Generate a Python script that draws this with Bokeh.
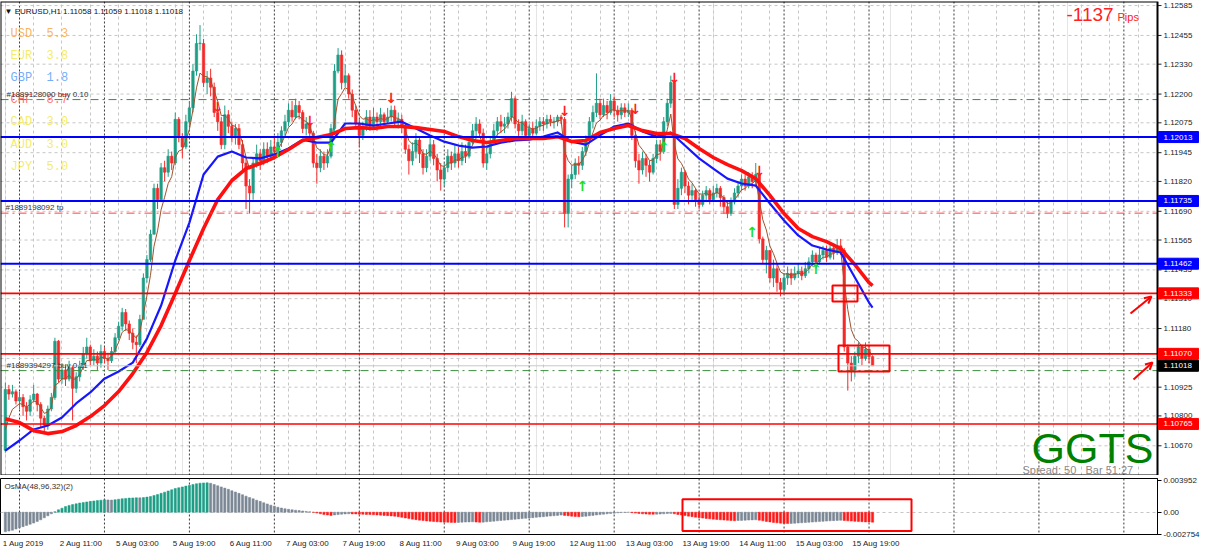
from bokeh.plotting import figure
from bokeh.models import (Range1d, FixedTicker, PrintfTickFormatter, Span, Label, Grid,
                          BoxAnnotation, Arrow, OpenHead, ColumnDataSource)
from bokeh.layouts import column
from bokeh.embed import file_html
from bokeh.resources import INLINE
from bokeh.core.properties import value

# ---------------- data (prices in points above 1.10000) ----------------
open0 = 650
close = [
    915, 895, 905, 865, 880, 840, 820, 870, 895, 850,
    790, 760, 830, 880, 1125, 960, 1000, 960, 1010, 920,
    970, 1020, 1070, 1100, 1040, 1060, 1030, 1080, 1050, 1040,
    1080, 1140, 1190, 1250, 1200, 1160, 1120, 1110, 1220, 1400,
    1480, 1590, 1790, 1740, 1880, 1860, 1930, 1900, 2090, 2010,
    1970, 2080, 2140, 2300, 2420, 2420, 2250, 2270, 2230, 2120,
    2080, 1980, 2110, 2060, 2010, 2050, 1980, 1900, 1800, 1770,
    1900, 1940, 1910, 1960, 1930, 1970, 1950, 1990, 2040, 2080,
    2130, 2100, 2150, 2120, 2050, 2070, 2030, 1900, 1880, 1930,
    1900, 1930, 2050, 2300, 2370, 2250, 2280, 2200, 2130, 2070,
    2020, 2060, 2100, 2060, 2100, 2080, 2110, 2080, 2100, 2130,
    2080, 2090, 2060, 1960, 1910, 1950, 2000, 1940, 1880, 1930,
    1980, 1920, 1870, 1830, 1880, 1930, 1900, 1940, 1910, 1950,
    1930, 1990, 2040, 2070, 2030, 1900, 1940, 1990, 2040, 2080,
    2060, 2070, 2100, 2180, 2070, 2040, 2080, 2020, 2050, 2030,
    2060, 2080, 2070, 2090, 2080, 2080, 2100, 2090, 1680, 1830,
    1850, 1900, 1890, 1950, 2000, 2080, 2120, 2160, 2110, 2150,
    2120, 2170, 2130, 2110, 2140, 2120, 2130, 2020, 1910, 1870,
    1920, 1890, 1860, 1920, 1980, 1950, 2080, 2160, 2250, 1720,
    1790, 1860, 1800, 1760, 1780, 1740, 1720, 1760, 1780, 1740,
    1770, 1790, 1750, 1710, 1680, 1730, 1770, 1800, 1830, 1800,
    1840, 1820, 1850, 1570, 1480, 1520, 1400, 1440, 1380, 1350,
    1400, 1420, 1400, 1420, 1430, 1410, 1440, 1470, 1500, 1470,
    1500, 1520, 1490, 1530, 1510, 1540, 1520, 1100, 1030, 1000,
    1060, 1100, 1050, 1090, 1058, 1018,
]
high = [
    945, 935, 935, 915, 905, 895, 860, 890, 935, 900,
    860, 800, 845, 900, 1140, 1130, 1030, 1020, 1040, 1020,
    990, 1040, 1100, 1140, 1110, 1090, 1080, 1110, 1100, 1075,
    1100, 1160, 1210, 1270, 1265, 1215, 1180, 1150, 1240, 1420,
    1500, 1610, 1810, 1810, 1900, 1910, 1960, 1950, 2120, 2100,
    2030, 2110, 2170, 2330, 2460, 2500, 2440, 2300, 2310, 2250,
    2110, 2100, 2150, 2130, 2080, 2070, 2070, 2000, 1920, 1830,
    1920, 1980, 1960, 1990, 1990, 2000, 2010, 2030, 2060, 2110,
    2160, 2170, 2180, 2170, 2130, 2100, 2055, 2040, 1940, 1960,
    1950, 1960, 2070, 2330, 2400, 2390, 2330, 2290, 2220, 2150,
    2090, 2080, 2130, 2130, 2140, 2120, 2140, 2120, 2140, 2150,
    2150, 2120, 2110, 2070, 1980, 1990, 2030, 2010, 1960, 1960,
    2010, 2000, 1940, 1900, 1900, 1960, 1950, 1980, 1970, 1990,
    1980, 2010, 2070, 2100, 2090, 2050, 1970, 2010, 2070, 2100,
    2110, 2100, 2120, 2210, 2190, 2090, 2110, 2090, 2070, 2080,
    2090, 2100, 2100, 2110, 2110, 2100, 2110, 2110, 2100, 1850,
    1890, 1920, 1930, 1970, 2020, 2100, 2150, 2290, 2180, 2180,
    2170, 2200, 2190, 2150, 2160, 2160, 2160, 2140, 2040, 1940,
    1950, 1940, 1910, 1940, 2000, 2000, 2100, 2180, 2280, 2260,
    1830, 1880, 1870, 1820, 1810, 1790, 1760, 1780, 1800, 1790,
    1800, 1810, 1800, 1760, 1730, 1750, 1790, 1820, 1850, 1850,
    1860, 1860, 1900, 1860, 1580, 1540, 1520, 1480, 1460, 1400,
    1420, 1450, 1440, 1450, 1460, 1450, 1470, 1490, 1520, 1510,
    1530, 1540, 1540, 1550, 1550, 1570, 1570, 1530, 1110, 1060,
    1080, 1120, 1110, 1120, 1110, 1059,
]
low = [
    640, 870, 880, 850, 830, 800, 780, 800, 860, 820,
    750, 720, 740, 820, 870, 945, 940, 930, 950, 780,
    900, 950, 1000, 1050, 1020, 1020, 1000, 1010, 1030, 1000,
    1030, 1070, 1130, 1170, 1170, 1130, 1090, 1030, 1100, 1290,
    1380, 1470, 1640, 1700, 1730, 1820, 1840, 1870, 1890, 1990,
    1920, 1960, 2060, 2120, 2280, 2390, 2230, 2200, 2190, 2100,
    2040, 1960, 1960, 2030, 1990, 1980, 1960, 1860, 1700, 1680,
    1740, 1880, 1870, 1890, 1900, 1910, 1920, 1930, 1970, 2020,
    2060, 2080, 2090, 2090, 2030, 2020, 2010, 1880, 1810, 1860,
    1870, 1880, 1920, 2040, 2290, 2220, 2230, 2180, 2100, 2050,
    1970, 2000, 2040, 2040, 2050, 2040, 2060, 2060, 2070, 2080,
    2060, 2050, 2030, 1940, 1850, 1890, 1920, 1900, 1850, 1860,
    1910, 1890, 1820, 1780, 1800, 1860, 1870, 1880, 1880, 1890,
    1900, 1920, 1980, 2010, 2010, 1880, 1870, 1920, 1980, 2020,
    2030, 2030, 2050, 2080, 2050, 2000, 2020, 2000, 2000, 2010,
    2020, 2040, 2040, 2050, 2060, 2050, 2060, 2070, 1620, 1620,
    1790, 1830, 1850, 1870, 1930, 1990, 2050, 2100, 2090, 2100,
    2090, 2110, 2100, 2080, 2090, 2100, 2100, 2000, 1880, 1810,
    1850, 1840, 1820, 1850, 1900, 1910, 1940, 2060, 2140, 1700,
    1700, 1760, 1770, 1720, 1730, 1710, 1700, 1710, 1730, 1720,
    1730, 1750, 1710, 1680, 1660, 1670, 1720, 1750, 1780, 1780,
    1790, 1790, 1800, 1550, 1460, 1420, 1380, 1360, 1340, 1320,
    1330, 1370, 1370, 1390, 1400, 1390, 1400, 1420, 1450, 1440,
    1460, 1480, 1470, 1480, 1480, 1500, 1500, 1080, 910, 950,
    970, 1030, 1020, 1040, 1030, 1018,
]
# moving averages read every 4th bar (last value = last bar)
ma_bars = list(range(0, 245, 4)) + [245]
ma_blue = [
    649, 693, 741, 758, 793, 854, 902, 962, 993, 1032,
    1136, 1280, 1476, 1641, 1850, 1928, 1950, 1924, 1920, 1937,
    1963, 2002, 1989, 1989, 2072, 2072, 2063, 2072, 2080, 2050,
    2020, 1993, 1976, 1967, 1972, 1989, 1998, 2002, 2015, 2033,
    1993, 1980, 2020, 2059, 2072, 2037, 2015, 2033, 1976, 1920,
    1876, 1832, 1811, 1802, 1724, 1650, 1585, 1541, 1524, 1511,
    1402, 1293, 1271,
]
ma_red = [
    788, 771, 736, 723, 732, 758, 797, 845, 906, 984,
    1076, 1193, 1332, 1476, 1615, 1741, 1824, 1876, 1898, 1924,
    1959, 1998, 2011, 2024, 2050, 2054, 2050, 2059, 2059, 2054,
    2046, 2037, 2015, 1998, 1989, 1998, 2007, 2007, 2007, 2015,
    1993, 1998, 2033, 2050, 2063, 2041, 2028, 2028, 2007, 1963,
    1924, 1893, 1867, 1832, 1759, 1680, 1615, 1580, 1558, 1528,
    1458, 1380, 1367,
]
# OsMA histogram (units of 1e-6)
osma = [
    -2440, -2350, -2250, -2100, -1950, -1800, -1650, -1500, -1350, -1150,
    -950, -700, -450, -200, 50, 300, 500, 700, 850, 950,
    1050, 1150, 1200, 1280, 1350, 1400, 1450, 1500, 1550, 1530,
    1510, 1560, 1620, 1680, 1720, 1760, 1780, 1800, 1790, 1820,
    1880, 1960, 2080, 2200, 2350, 2500, 2650, 2800, 2950, 3050,
    3150, 3250, 3350, 3450, 3550, 3620, 3650, 3660, 3600, 3450,
    3300, 3150, 3000, 2850, 2680, 2520, 2350, 2180, 2000, 1830,
    1670, 1500, 1350, 1180, 1030, 880, 750, 620, 520, 430,
    360, 300, 250, 200, 150, 100, 50, -20, -100, -200,
    -300, -350, -400, -350, -300, -250, -220, -200, -210, -220,
    -240, -260, -280, -300, -320, -340, -370, -400, -430, -460,
    -500, -560, -640, -720, -800, -870, -930, -990, -1040, -1090,
    -1130, -1170, -1200, -1230, -1240, -1250, -1270, -1280, -1270, -1250,
    -1230, -1210, -1200, -1230, -1260, -1240, -1200, -1160, -1120, -1080,
    -1040, -1000, -960, -920, -880, -840, -800, -760, -720, -680,
    -640, -600, -560, -520, -480, -440, -400, -360, -400, -450,
    -500, -540, -560, -540, -500, -450, -400, -350, -300, -250,
    -200, -160, -120, -80, -50, -30, -20, -60, -110, -160,
    -200, -230, -250, -260, -250, -230, -200, -170, -150, -200,
    -280, -350, -420, -490, -560, -620, -680, -730, -780, -830,
    -870, -910, -950, -980, -1010, -1040, -1060, -1040, -1020, -1000,
    -980, -960, -950, -1000, -1080, -1150, -1220, -1280, -1330, -1370,
    -1400, -1420, -1400, -1380, -1350, -1320, -1290, -1260, -1230, -1200,
    -1170, -1140, -1110, -1080, -1050, -1030, -1010, -1040, -1080, -1110,
    -1140, -1170, -1190, -1210, -1230, -1250,
]
sig_dn_bar = [60, 86, 109, 158, 178, 189, 213]
sig_dn_price = [2142, 2085, 2185, 2128, 2133, 2272, 1867]
sig_up_bar = [77, 92, 163, 186, 211, 229]
sig_up_price = [1946, 1968, 1798, 1968, 1598, 1441]

price_ticks = [1.12585, 1.12455, 1.12330, 1.12200, 1.12075, 1.11945, 1.11820, 1.11690,
               1.11565, 1.11435, 1.11310, 1.11180, 1.11050, 1.10925, 1.10800, 1.10670, 1.10540]
blue_levels = [1.12013, 1.11735, 1.11462]
red_levels = [1.11333, 1.11070, 1.10765]
order_levels = [1.12176, 1.10997]
tp_levels = [1.11682]
bid = 1.11018
time_bars = [-1, 15, 31, 47, 63, 79, 95, 111, 127, 143, 159, 175, 191, 207, 223, 239]
time_labels = ["1 Aug 2019", "2 Aug 11:00", "5 Aug 03:00", "5 Aug 19:00", "6 Aug 11:00",
               "7 Aug 03:00", "7 Aug 19:00", "8 Aug 11:00", "9 Aug 03:00", "9 Aug 19:00",
               "12 Aug 11:00", "13 Aug 03:00", "13 Aug 19:00", "14 Aug 11:00",
               "15 Aug 03:00", "15 Aug 19:00"]
day_start_bars = list(range(4, 326, 24))
grid_bars = list(range(0, 326, 8))
currencies = ["USD", "EUR", "GBP", "CHF", "CAD", "AUD", "JPY"]
strengths = [5.3, 3.8, 1.8, 8.7, 3.0, 3.0, 5.0]
cur_colors = ["#f7a945", "#f2e84e", "#5b9df6", "#ff5a5a", "#f2e84e", "#f2e84e", "#f2e84e"]
osma_ticks = [-0.002754, 0, 0.003952]

# ---------------- helpers ----------------
def P(v):
    return 1.1 + v * 1e-5

X0, X1 = -1.37, 325.5
REF_W = 1157.0
SCALE_W = 1201          # main frame also covers the price-scale column


def bx(px):
    return X0 + px * (X1 - X0) / REF_W


def yp(pix):
    return 1.1 + (2607 - 4.35 * pix) * 1e-5


def yo(pix):
    return (513 - pix) * 1.235e-4


CHW = {" ": 0.278, ":": 0.278, "A": 0.667}


def text_w(s, size=8.0):
    return sum(CHW.get(ch, 0.556) for ch in s) * size


FONT = "Liberation Sans"
FW = 1157
PPB = FW / (X1 - X0)
PX_PRICE = 4.35e-5       # price per reference pixel

N = len(close)
bars = list(range(N))
opens = [open0] + close[:-1]
H = [P(max(h, o, c)) for h, o, c in zip(high, opens, close)]
L = [P(min(l, o, c)) for l, o, c in zip(low, opens, close)]
BULL, BEAR = "#1f9e86", "#f42a2a"
ccol = [BULL if c >= o else BEAR for o, c in zip(opens, close)]
tops, bots = [], []
for o, c in zip(opens, close):
    t, b = max(o, c), min(o, c)
    if t - b < 2:
        t = b + 2
    tops.append(P(t))
    bots.append(P(b))

ema = []
e = open0
for v in close:
    e = e + (v - e) / 3.0
    ema.append(P(e))

YTOP, YBOT = yp(1), yp(475)

# ---------------- main panel ----------------
p1 = figure(frame_width=SCALE_W, frame_height=474, x_range=Range1d(X0, bx(SCALE_W)),
            y_range=Range1d(YBOT, YTOP), x_axis_location=None, y_axis_location="right",
            output_backend="svg", toolbar_location=None, min_border_left=0, min_border_right=2,
            min_border_top=1, min_border_bottom=0, outline_line_color=None,
            background_fill_color="white", border_fill_color="white")
ax = p1.yaxis[0]
ax.ticker = FixedTicker(ticks=price_ticks)
ax.formatter = PrintfTickFormatter(format="%.5f")
ax.major_label_text_font_size = "8px"
ax.major_label_text_font = FONT
ax.major_label_text_color = "#222222"
ax.major_tick_out = 0
ax.major_tick_in = 0
ax.minor_tick_line_color = None
ax.axis_line_color = None
ax.major_label_standoff = -(SCALE_W - 1163)
p1.ygrid.visible = False

n_t = len(price_ticks)
p1.segment(x0=[X0] * n_t, x1=[X1] * n_t, y0=price_ticks, y1=price_ticks,
           line_color="#c6c6c6", line_dash="3 3", line_width=1)
p1.segment(x0=[X1] * n_t, x1=[bx(1161)] * n_t, y0=price_ticks, y1=price_ticks,
           line_color="#222222", line_width=1)
p1.add_layout(Grid(dimension=0, ticker=FixedTicker(ticks=grid_bars),
                   grid_line_color="#c6c6c6", grid_line_dash="3 3"))
for b in day_start_bars:
    p1.add_layout(Span(location=b, dimension="height", line_color="#3c3c3c",
                       line_dash="2 2", line_width=1, level="underlay"))

src = ColumnDataSource(dict(x=bars, h=H, l=L, t=tops, b=bots, c=ccol))
p1.segment(x0="x", y0="l", x1="x", y1="h", color="c", line_width=1, source=src)
p1.vbar(x="x", width=0.7, top="t", bottom="b", fill_color="c", line_color="c",
        line_width=0.6, source=src)

p1.line(bars, ema, color="#a0522d", line_width=1)
p1.line(ma_bars, [P(v) for v in ma_blue], color="#1616ff", line_width=2.2, line_join="round")
p1.line(ma_bars, [P(v) for v in ma_red], color="#ff1010", line_width=3.6, line_join="round")


def hline(levels, **kw):
    n = len(levels)
    p1.segment(x0=[X0] * n, x1=[X1] * n, y0=levels, y1=levels, **kw)


hline(order_levels, line_color="#3d8b3d", line_dash="8 4 2 4", line_width=1)
hline(tp_levels, line_color="#ff4040", line_dash="8 4 2 4", line_width=1)
hline([bid], line_color="#c8c8c8", line_width=1)
hline(blue_levels, line_color="#0000ff", line_width=2)
hline(red_levels, line_color="#ff0000", line_width=1.6)

# chart border (only around the candle area, not the scale column)
p1.add_layout(BoxAnnotation(left=X0, right=X1, top=YTOP, bottom=YBOT, fill_alpha=0,
                            line_color="black", line_alpha=1, line_width=2))

# price boxes on the scale
boxes = [(lv, "#0000ff") for lv in blue_levels] + [(lv, "#ff0000") for lv in red_levels] + [(bid, "#000000")]
for lv, colr in boxes:
    p1.add_layout(BoxAnnotation(left=bx(1158), right=bx(1198), top=lv + 5.5 * PX_PRICE,
                                bottom=lv - 5.5 * PX_PRICE, fill_color=colr, fill_alpha=1,
                                line_color=colr, line_alpha=1, line_width=1))
    p1.add_layout(Label(x=bx(1163), y=lv, text=f"{lv:.5f}", text_font=FONT,
                        text_font_size="8px", text_color="white", text_baseline="middle",
                        text_align="left"))

p1.text(x=sig_dn_bar, y=[P(v) for v in sig_dn_price], text=["↓"] * len(sig_dn_bar),
        text_color="#ff2020", text_font=value("DejaVu Sans"), text_font_size="14px",
        text_font_style="bold", text_align="center", text_baseline="middle")
p1.text(x=sig_up_bar, y=[P(v) for v in sig_up_price], text=["↑"] * len(sig_up_bar),
        text_color="#19e019", text_font=value("DejaVu Sans"), text_font_size="14px",
        text_font_style="bold", text_align="center", text_baseline="middle")

# texts
p1.add_layout(Label(x=bx(4), y=yp(10.5), text="▼  EURUSD,H1  1.11058 1.11059 1.11018 1.11018",
                    text_font=FONT, text_font_size="8px", text_color="#111111",
                    text_baseline="middle"))
for i, (cur, sv, cc) in enumerate(zip(currencies, strengths, cur_colors)):
    p1.add_layout(Label(x=bx(10), y=yp(33 + 22.2 * i), text=f"{cur}\u00a0\u00a0{sv:.1f}",
                        text_font="Liberation Mono", text_font_size="12px", text_color=cc,
                        text_alpha=0.85, text_baseline="middle"))
p1.add_layout(Label(x=bx(6), y=yp(93.5), text="#1889128000 buy 0.10", text_font=FONT,
                    text_font_size="8px", text_color="#333333", text_baseline="middle"))
p1.add_layout(Label(x=bx(5), y=yp(207), text="#1889198092 tp", text_font=FONT,
                    text_font_size="8px", text_color="#333333", text_baseline="middle"))
p1.add_layout(Label(x=bx(6), y=yp(365), text="#1889394297 buy 0.11", text_font=FONT,
                    text_font_size="8px", text_color="#333333", text_baseline="middle"))
p1.add_layout(Label(x=bx(1066), y=yp(14), text="-1137", text_font=FONT,
                    text_font_size="19px", text_color="#ff2020", text_baseline="middle"))
p1.add_layout(Label(x=bx(1117), y=yp(16.5), text="Pips", text_font=FONT,
                    text_font_size="11px", text_color="#ff2020", text_baseline="middle"))
p1.add_layout(Label(x=bx(1031), y=yp(447), text="GGTS", text_font=FONT,
                    text_font_size="43px", text_color="#008000", text_baseline="middle"))
p1.add_layout(Label(x=bx(1022), y=yp(469), text="Spread: 50\u00a0\u00a0\u00a0Bar\u00a051:27",
                    text_font=FONT, text_font_size="11px", text_color="#8a8a8a",
                    text_baseline="middle"))

# highlight boxes and arrows
p1.add_layout(BoxAnnotation(left=bx(832), right=bx(857), top=yp(285), bottom=yp(301),
                            fill_alpha=0, line_color="#ff0000", line_alpha=1, line_width=2))
p1.add_layout(BoxAnnotation(left=bx(838), right=bx(889), top=yp(345), bottom=yp(371),
                            fill_alpha=0, line_color="#ff0000", line_alpha=1, line_width=2))
p1.add_layout(Arrow(x_start=bx(1130), y_start=yp(313), x_end=bx(1151), y_end=yp(296),
                    line_color="#ff0000", line_width=2,
                    end=OpenHead(size=7, line_color="#ff0000", line_width=2)))
p1.add_layout(Arrow(x_start=bx(1133), y_start=yp(379), x_end=bx(1152), y_end=yp(362),
                    line_color="#ff0000", line_width=2,
                    end=OpenHead(size=7, line_color="#ff0000", line_width=2)))

# ---------------- OsMA panel ----------------
p2 = figure(frame_width=FW, frame_height=56, x_range=Range1d(X0, X1),
            y_range=Range1d(yo(535.5), yo(479)), y_axis_location="right",
            output_backend="svg", toolbar_location=None, min_border_left=0, min_border_right=2,
            min_border_top=3, min_border_bottom=2, outline_line_color="black",
            background_fill_color="white", border_fill_color="white")
ocol = []
for i, v in enumerate(osma):
    prev = osma[i - 1] if i > 0 else v - 1
    if v >= 0:
        ocol.append("#1f9e86" if v >= prev else "#7b8794")
    else:
        ocol.append("#ff1a1a" if v < prev else "#7b8794")
p2.add_layout(Grid(dimension=0, ticker=FixedTicker(ticks=grid_bars),
                   grid_line_color="#c6c6c6", grid_line_dash="3 3"))
for b in day_start_bars:
    p2.add_layout(Span(location=b, dimension="height", line_color="#3c3c3c",
                       line_dash="2 2", line_width=1, level="underlay"))
p2.vbar(x=bars, width=0.62, top=[v * 1e-6 for v in osma], bottom=0,
        fill_color=ocol, line_color=ocol, line_width=0.5)

# time labels start at their tick: centre each label half its width to the right
label_pos = [b + (text_w(s) / 2 + 1) / PPB for b, s in zip(time_bars, time_labels)]
xa = p2.xaxis[0]
xa.ticker = FixedTicker(ticks=label_pos)
xa.major_label_overrides = {b: s for b, s in zip(label_pos, time_labels)}
xa.major_label_text_font = FONT
xa.major_label_text_font_size = "8px"
xa.major_label_text_color = "#222222"
xa.major_tick_out = 0
xa.major_tick_in = 0
xa.minor_tick_line_color = None
xa.major_label_standoff = 4
xa.axis_line_color = "black"
p2.xgrid.visible = False

ya = p2.yaxis[0]
ya.ticker = FixedTicker(ticks=osma_ticks)
ya.major_label_overrides = {-0.002754: "-0.002754", 0: "0.00", 0.003952: "0.003952"}
ya.major_label_text_font = FONT
ya.major_label_text_font_size = "8px"
ya.major_label_text_color = "#222222"
ya.major_tick_out = 4
ya.major_tick_in = 0
ya.minor_tick_line_color = None
ya.major_label_standoff = 2
ya.axis_line_color = "black"
p2.ygrid.ticker = FixedTicker(ticks=[0])
p2.ygrid.grid_line_color = "#c6c6c6"
p2.ygrid.grid_line_dash = "3 3"

p2.add_layout(Label(x=bx(4), y=yo(487), text="OsMA(48,96,32)(2)", text_font=FONT,
                    text_font_size="8px", text_color="#333333", text_baseline="middle"))
p2.add_layout(BoxAnnotation(left=bx(682), right=bx(911), top=yo(500), bottom=yo(532),
                            fill_alpha=0, line_color="#ff0000", line_alpha=1, line_width=2))

layout = column(p1, p2)
open("out.html", "w").write(file_html(layout, INLINE))
